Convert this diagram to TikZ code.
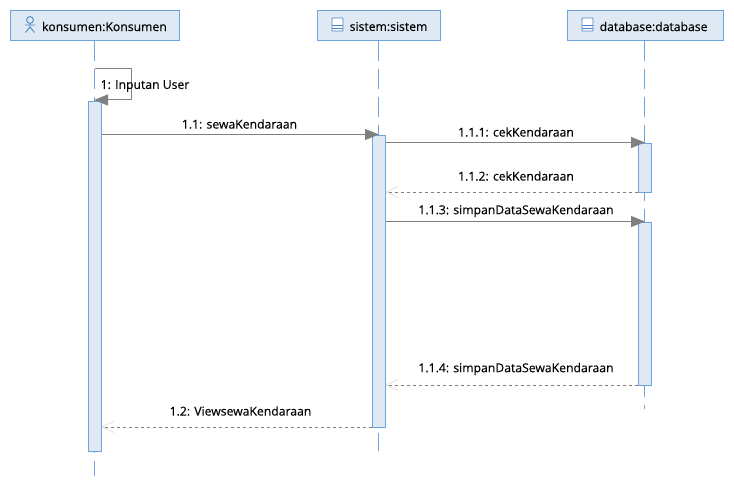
\documentclass[tikz,border=0pt]{standalone}
\usepackage{fontspec}
\setmainfont[FakeBold=0.2]{Open Sans}
\definecolor{bl}{HTML}{6FA3DD}
\definecolor{fl}{HTML}{DFE9F4}
\definecolor{ar}{HTML}{808080}
\definecolor{icon}{HTML}{4A86C5}
\usetikzlibrary{arrows.meta}
\tikzset{
 x=1pt,y=-1pt,
 headbox/.style={draw=bl,fill=fl,line width=1pt,inner sep=0,anchor=north west},
 actbox/.style={draw=bl,fill=fl,line width=1pt,inner sep=0,anchor=north west,minimum width=13pt},
 life/.style={draw=bl,line width=1pt,dash pattern=on 20pt off 8pt},
 msg/.style={draw=ar,line width=1pt,-{Triangle[fill=ar,length=14pt,width=11pt]}},
 ret/.style={draw=ar,line width=.8pt,dash pattern=on 3pt off 3pt},
 barb/.style={draw=black!15,line width=.6pt},
 lab/.style={font=\fontsize{12.2}{13}\selectfont,text=black,inner sep=0},
 icn/.style={draw=icon,line width=.9pt},
}
\begin{document}
\begin{tikzpicture}
\useasboundingbox (0,0) rectangle (734,486);
% heads
\node[headbox,minimum width=169pt,minimum height=30pt] (kh) at (10,10) {};
\node[headbox,minimum width=123pt,minimum height=30pt] (sh) at (317,10) {};
\node[headbox,minimum width=156pt,minimum height=30pt] (dh) at (567,10) {};
\node[lab,anchor=west] (kt) at (42,26.5) {konsumen:Konsumen};
\node[lab,anchor=west] (st) at (349.5,26.5) {sistem:sistem};
\node[lab,anchor=west] (dt) at (599.5,26.5) {database:database};
% icons
\draw[icn] (30,20) circle (3.4pt);
\draw[icn] (30,23.5) -- (30,27) (25,25) -- (35,25) (25.5,32.5) -- (30,27) -- (34.5,32.5);
\foreach \xx in {332,582}{
 \fill[white] (\xx,18) rectangle +(11,13);
 \draw[icn,rounded corners=.5pt] (\xx,18) rectangle +(11,13);
 \draw[icn] (\xx,25.5) -- +(11,0) (\xx,28.5) -- +(11,0);
}
% lifeline ends
\coordinate (ke) at (94.5,476);
\coordinate (se) at (378.5,451);
\coordinate (de) at (644.5,409);
\draw[life] (kh.south -| ke) -- (ke);
\draw[life] (sh.south -| se) -- (se);
\draw[life] (dh.south -| de) -- (de);
% activations
\node[actbox,minimum height=350pt] (a1) at (88,101) {};
\node[actbox,minimum height=291.5pt] (a2) at (372,135.5) {};
\node[actbox,minimum height=49pt] (a3) at (638,143) {};
\node[actbox,minimum height=163pt] (a4) at (638,222) {};
% self message
\coordinate (s0) at (94.5,69);
\coordinate (s1) at (131,69);
\coordinate (s2) at (131,100);
\coordinate (s3) at (94,100);
\draw[msg] (s0) -- (s1) -- (s2) -- (s3);
\node[lab,anchor=west] (m0) at (100.5,86) {1: Inputan User};
% messages
\coordinate (y1) at (0,134.5);
\coordinate (y2) at (0,142.5);
\coordinate (y3) at (0,192);
\coordinate (y4) at (0,221.5);
\coordinate (y5) at (0,385);
\coordinate (y6) at (0,427);
\draw[msg] (a1.east |- y1) -- (a2.north |- y1);
\draw[msg] (a2.east |- y2) -- (a3.north |- y2);
\draw[ret] (a3.west |- y3) -- (a2.east |- y3);
\draw[msg] (a2.east |- y4) -- (a4.north |- y4);
\draw[ret] (a4.west |- y5) -- (a2.east |- y5);
\draw[ret] (a2.west |- y6) -- (a1.east |- y6);
\draw[barb] (a2.east |- y3) ++(12,-5.5) -- ++(-12,5.5) -- ++(12,5.5);
\draw[barb] (a2.east |- y5) ++(12,-5.5) -- ++(-12,5.5) -- ++(12,5.5);
\draw[barb] (a1.east |- y6) ++(12,-5.5) -- ++(-12,5.5) -- ++(12,5.5);
\node[lab] (m1) at (239.5,124) {1.1: sewaKendaraan};
\node[lab] (m2) at (516,132) {1.1.1: cekKendaraan};
\node[lab] (m3) at (516,176) {1.1.2: cekKendaraan};
\node[lab] (m4) at (516,211) {1.1.3: simpanDataSewaKendaraan};
\node[lab] (m5) at (516,369) {1.1.4: simpanDataSewaKendaraan};
\node[lab] (m6) at (240.5,411) {1.2: ViewsewaKendaraan};
\end{tikzpicture}
\end{document}
